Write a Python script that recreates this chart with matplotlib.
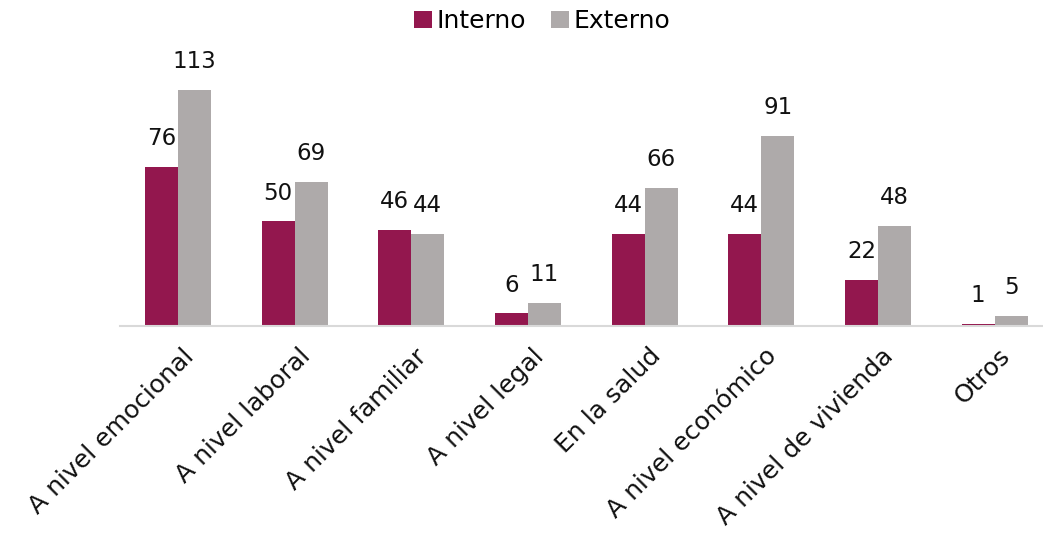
import numpy as np
import matplotlib.pyplot as plt

categorias = ['A nivel emocional', 'A nivel laboral', 'A nivel familiar', 'A nivel legal',
              'En la salud', 'A nivel económico', 'A nivel de vivienda', 'Otros']
interno = [76, 50, 46, 6, 44, 44, 22, 1]
externo = [113, 69, 44, 11, 66, 91, 48, 5]

color_int = '#93174E'
color_ext = '#AEAAAA'

plt.rcParams['font.family'] = ['DejaVu Sans']

W, H = 1043, 535
fig = plt.figure(figsize=(W / 100, H / 100), dpi=100)
# axes spans slightly past the right edge of the canvas
x0, x1, y0, y1 = 119.6, 1053.0, 326.0, 50.0
ax = fig.add_axes([x0 / W, (H - y0) / H, (x1 - x0) / W, (y0 - y1) / H])

x = np.arange(len(categorias))
w = 0.283
b1 = ax.bar(x - w / 2, interno, w, color=color_int, label='Interno')
b2 = ax.bar(x + w / 2, externo, w, color=color_ext, label='Externo')

for bars in (b1, b2):
    for r in bars:
        ax.annotate(f'{int(r.get_height())}', (r.get_x() + r.get_width() / 2, r.get_height()),
                    xytext=(0, 12), textcoords='offset points', ha='center', va='bottom',
                    fontsize=16.5, color='#111111')

ax.set_xlim(-0.5, len(categorias) - 0.5)
ax.set_ylim(0, 132)
ax.set_yticks([])
for s in ['top', 'right', 'left']:
    ax.spines[s].set_visible(False)
ax.spines['bottom'].set_color('#D9D9D9')
ax.spines['bottom'].set_linewidth(1.5)

ax.set_xticks(x + 0.03)
ax.set_xticklabels(categorias, rotation=45, ha='right', rotation_mode='anchor',
                   fontsize=18, color='#111111')
ax.tick_params(axis='x', length=0, pad=13)

fig.legend(handles=[b1, b2], loc='upper center', bbox_to_anchor=(0.52, 1.025), ncol=2,
           frameon=False, fontsize=18, handlelength=0.7, handleheight=0.7,
           handletextpad=0.2, columnspacing=1.0)

fig.savefig('out.png', dpi=100)
